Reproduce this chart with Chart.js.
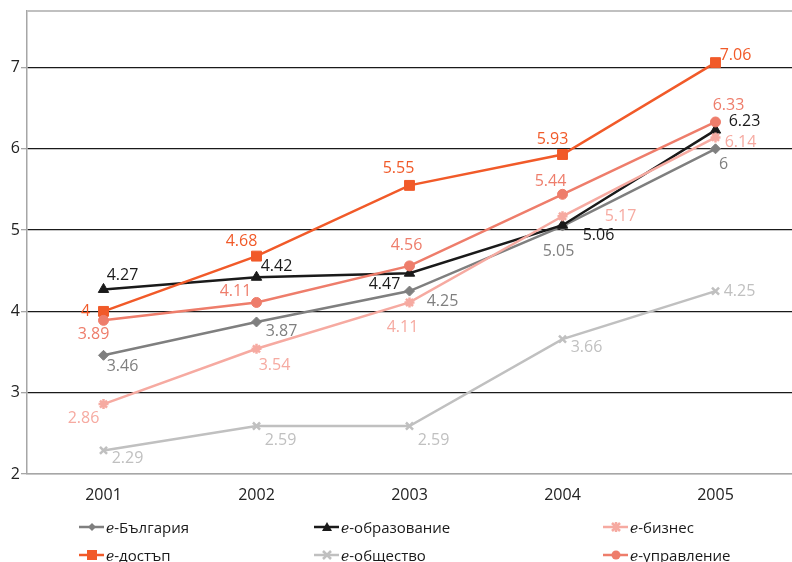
<!DOCTYPE html>
<html lang="bg">
<head>
    <meta charset="UTF-8">
    <title>e-индекси 2001-2005</title>
    <script src="https://cdn.jsdelivr.net/npm/chart.js"></script>
    <style>
        body, html {
            margin: 0;
            padding: 0;
            width: 792px;
            height: 562px;
            overflow: hidden;
            background: #ffffff;
            font-family: 'Open Sans', 'Noto Sans', sans-serif;
        }
        .wrap {
            position: relative;
            width: 800px;
            height: 562px;
        }
        .legend {
            position: absolute;
            left: 0;
            top: 0;
            width: 792px;
            height: 562px;
            pointer-events: none;
        }
        .legend-item {
            position: absolute;
            display: flex;
            align-items: center;
            height: 20px;
            font-size: 15px;
            color: #1a1a1a;
            white-space: nowrap;
        }
        .legend-item svg {
            margin-right: 2px;
        }
        .legend-item i {
            font-family: 'DejaVu Serif', serif;
            font-size: 14px;
        }
    </style>
</head>
<body>
    <div class="wrap">
        <canvas id="chart"></canvas>
        <div class="legend" id="legend"></div>
    </div>
    <script>
        const years = ['2001', '2002', '2003', '2004', '2005'];
        const yTicks = [2, 3, 4, 5, 6, 7];
        const yMax = 7.7;

        const seriesNames = ['e-България', 'e-образование', 'e-бизнес', 'e-достъп', 'e-общество', 'e-управление'];
        const bulgaria = [3.46, 3.87, 4.25, 5.05, 6];
        const education = [4.27, 4.42, 4.47, 5.06, 6.23];
        const business = [2.86, 3.54, 4.11, 5.17, 6.14];
        const access = [4, 4.68, 5.55, 5.93, 7.06];
        const society = [2.29, 2.59, 2.59, 3.66, 4.25];
        const government = [3.89, 4.11, 4.56, 5.44, 6.33];

        const colors = ['#7f7f7f', '#1a1a1a', '#f6aaa1', '#f15a29', '#c0c0c0', '#ee7d6b'];
        const markers = ['rectRot', 'triangle', 'star', 'rect', 'crossRot', 'circle'];
        const markerSize = [5, 6, 5, 7, 5, 5];

        // label offsets from the point, [dx, dy] per point
        const labelOffsets = [
            [[19, 11], [25, 9], [33, 10], [-4, 25], [8, 16]],
            [[19, -14], [20, -11], [-25, 11], [36, 10], [29, -9]],
            [[-20, 14], [18, 17], [-7, 25], [58, 0], [25, 5]],
            [[-18, 0], [-15, -15], [-11, -17], [-10, -15], [20, -7]],
            [[24, 8], [24, 14], [24, 14], [24, 8], [24, 0]],
            [[-10, 14], [-21, -11], [-3, -20], [-12, -13], [13, -17]]
        ];

        const allValues = [bulgaria, education, business, access, society, government];

        const pointLabels = {
            id: 'pointLabels',
            afterDatasetsDraw(chart) {
                const ctx = chart.ctx;
                ctx.save();
                ctx.font = '16px "Open Sans"';
                ctx.textAlign = 'center';
                ctx.textBaseline = 'middle';
                chart.data.datasets.forEach((ds, i) => {
                    const meta = chart.getDatasetMeta(i);
                    meta.data.forEach((pt, j) => {
                        const off = labelOffsets[i][j];
                        ctx.fillStyle = colors[i];
                        ctx.fillText(String(ds.data[j]), pt.x + off[0], pt.y + off[1]);
                    });
                });
                ctx.restore();
            }
        };

        const datasets = allValues.map((vals, i) => ({
            label: seriesNames[i],
            data: vals,
            borderColor: colors[i],
            backgroundColor: colors[i],
            borderWidth: 2.5,
            pointStyle: markers[i],
            pointRadius: markerSize[i],
            pointBorderWidth: markers[i] === 'star' || markers[i] === 'crossRot' ? 2.5 : 1,
            pointBorderColor: colors[i],
            pointBackgroundColor: colors[i],
            tension: 0,
            order: allValues.length - i
        }));

        new Chart(document.getElementById('chart'), {
            type: 'line',
            data: { labels: years, datasets: datasets },
            options: {
                responsive: true,
                maintainAspectRatio: false,
                animation: false,
                events: [],
                layout: { padding: { top: 10, right: 4, bottom: 60, left: 0 } },
                plugins: {
                    legend: { display: false },
                    tooltip: { enabled: false }
                },
                scales: {
                    x: {
                        offset: true,
                        grid: { display: false },
                        border: { color: '#a6a6a6', width: 1.5 },
                        ticks: { color: '#222', font: { family: 'Open Sans', size: 16 }, padding: 4 },
                        afterFit(axis) { axis.height = 28; }
                    },
                    y: {
                        min: 2,
                        max: yMax,
                        afterBuildTicks(axis) {
                            axis.ticks = yTicks.concat([yMax]).map(v => ({ value: v }));
                        },
                        afterFit(axis) { axis.width = 27; },
                        border: { color: '#a6a6a6', width: 1.5 },
                        grid: {
                            color: c => c.tick.value === yMax ? '#c0c0c0' : (c.tick.value === 2 ? '#a6a6a6' : '#1a1a1a'),
                            lineWidth: c => c.tick.value === yMax ? 2 : 1.3,
                            tickColor: c => c.tick.value === yMax ? 'rgba(0,0,0,0)' : '#a6a6a6',
                            tickLength: 6
                        },
                        ticks: {
                            color: '#222',
                            padding: 1,
                            font: { family: 'Open Sans', size: 16 },
                            callback: v => v === yMax ? '' : v
                        }
                    }
                }
            },
            plugins: [pointLabels]
        });

        // legend laid out in three columns like the original
        const legendPos = [[79, 527], [314, 527], [603, 527], [79, 555], [314, 555], [603, 555]];
        const legendMarks = {
            rectRot: c => `<polygon points="13,2 17,6 13,10 9,6" fill="${c}"/>`,
            triangle: c => `<polygon points="13,1 18,10 8,10" fill="${c}"/>`,
            star: c => `<path d="M9,2 L17,10 M17,2 L9,10 M13,1 L13,11" stroke="${c}" stroke-width="2.5"/>`,
            rect: c => `<rect x="8" y="1" width="10" height="10" fill="${c}"/>`,
            crossRot: c => `<path d="M9,2 L17,10 M17,2 L9,10" stroke="${c}" stroke-width="2.5"/>`,
            circle: c => `<circle cx="13" cy="6" r="4.5" fill="${c}"/>`
        };
        const legendEl = document.getElementById('legend');
        seriesNames.forEach((name, i) => {
            const item = document.createElement('div');
            item.className = 'legend-item';
            item.style.left = legendPos[i][0] + 'px';
            item.style.top = (legendPos[i][1] - 10) + 'px';
            const svg = `<svg width="25" height="12"><line x1="0" y1="6" x2="25" y2="6" stroke="${colors[i]}" stroke-width="2.5"/>${legendMarks[markers[i]](colors[i])}</svg>`;
            item.innerHTML = svg + '<span><i>e</i>' + name.slice(1) + '</span>';
            legendEl.appendChild(item);
        });
    </script>
</body>
</html>
